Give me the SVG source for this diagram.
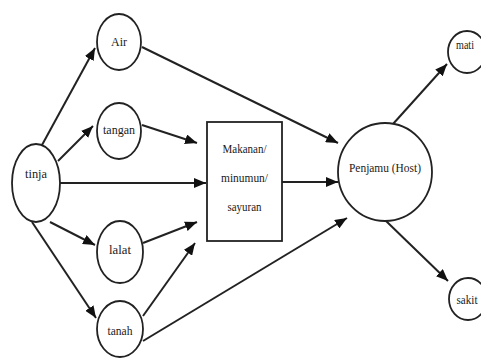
<svg xmlns="http://www.w3.org/2000/svg" width="481" height="358" viewBox="0 0 481 358">
<style>
.n{fill:#fff;stroke:#222;stroke-width:1.8}
.t{font-family:'Liberation Serif','DejaVu Serif','Times New Roman',serif;font-size:13.5px;fill:#1a1a1a;text-anchor:middle}
.c{stroke:#222;stroke-width:2;fill:none;marker-end:url(#ah)}
</style>
<defs>
<marker id="ah" markerUnits="userSpaceOnUse" markerWidth="13" markerHeight="10" refX="12" refY="5" orient="auto">
<path d="M0,0 L12,5 L0,10 z" fill="#111"/>
</marker>
</defs>
<rect width="481" height="358" fill="#fff"/>
<g id="connectors">
<line class="c" x1="42" y1="145" x2="95" y2="48"/>
<line class="c" x1="58" y1="161" x2="93" y2="126"/>
<line class="c" x1="142" y1="125" x2="197" y2="143"/>
<line class="c" x1="60" y1="183" x2="206" y2="183"/>
<line class="c" x1="142" y1="47" x2="338" y2="143"/>
<line class="c" x1="282" y1="182" x2="338" y2="182"/>
<line class="c" x1="50" y1="222" x2="95" y2="245"/>
<line class="c" x1="32" y1="222" x2="96" y2="318"/>
<line class="c" x1="143" y1="243" x2="197" y2="222"/>
<line class="c" x1="143" y1="316" x2="195" y2="243"/>
<line class="c" x1="143" y1="341" x2="347" y2="218"/>
<line class="c" x1="393" y1="124" x2="447" y2="64"/>
<line class="c" x1="385" y1="220" x2="448" y2="281"/>
</g>
<g id="tinja"><ellipse class="n" cx="36" cy="183" rx="24" ry="39"/><text class="t" font-family="Liberation Serif" x="36" y="178" textLength="22" lengthAdjust="spacingAndGlyphs">tinja</text></g>
<g id="air"><ellipse class="n" cx="119" cy="42" rx="22" ry="28"/><text class="t" font-family="Liberation Serif" x="119" y="46" textLength="16" lengthAdjust="spacingAndGlyphs">Air</text></g>
<g id="tangan"><ellipse class="n" cx="119" cy="131" rx="22" ry="28"/><text class="t" font-family="Liberation Serif" x="119" y="134" textLength="32" lengthAdjust="spacingAndGlyphs">tangan</text></g>
<g id="talat"><ellipse class="n" cx="120" cy="252" rx="23" ry="31"/><text class="t" font-family="Liberation Serif" x="120" y="254" textLength="22" lengthAdjust="spacingAndGlyphs">lalat</text></g>
<g id="tanah"><ellipse class="n" cx="120" cy="329" rx="23" ry="28"/><text class="t" font-family="Liberation Serif" x="120" y="335" textLength="25" lengthAdjust="spacingAndGlyphs">tanah</text></g>
<g id="makanan"><rect class="n" x="207" y="122" width="75" height="119"/>
<text class="t" font-family="Liberation Serif" x="244.5" y="153" textLength="44" lengthAdjust="spacingAndGlyphs">Makanan/</text>
<text class="t" font-family="Liberation Serif" x="244.5" y="182" textLength="47" lengthAdjust="spacingAndGlyphs">minumun/</text>
<text class="t" font-family="Liberation Serif" x="244.5" y="211" textLength="34" lengthAdjust="spacingAndGlyphs">sayuran</text></g>
<g id="penjamu"><ellipse class="n" cx="385" cy="172" rx="47" ry="49"/><text class="t" font-family="Liberation Serif" x="385" y="172" textLength="72" lengthAdjust="spacingAndGlyphs">Penjamu (Host)</text></g>
<g id="mati"><ellipse class="n" cx="467" cy="52" rx="19" ry="21"/><text class="t" font-family="Liberation Serif" x="465" y="49" textLength="18" lengthAdjust="spacingAndGlyphs">mati</text></g>
<g id="sakit"><ellipse class="n" cx="468" cy="299" rx="19" ry="21"/><text class="t" font-family="Liberation Serif" x="467" y="304" textLength="21" lengthAdjust="spacingAndGlyphs">sakit</text></g>
</svg>
